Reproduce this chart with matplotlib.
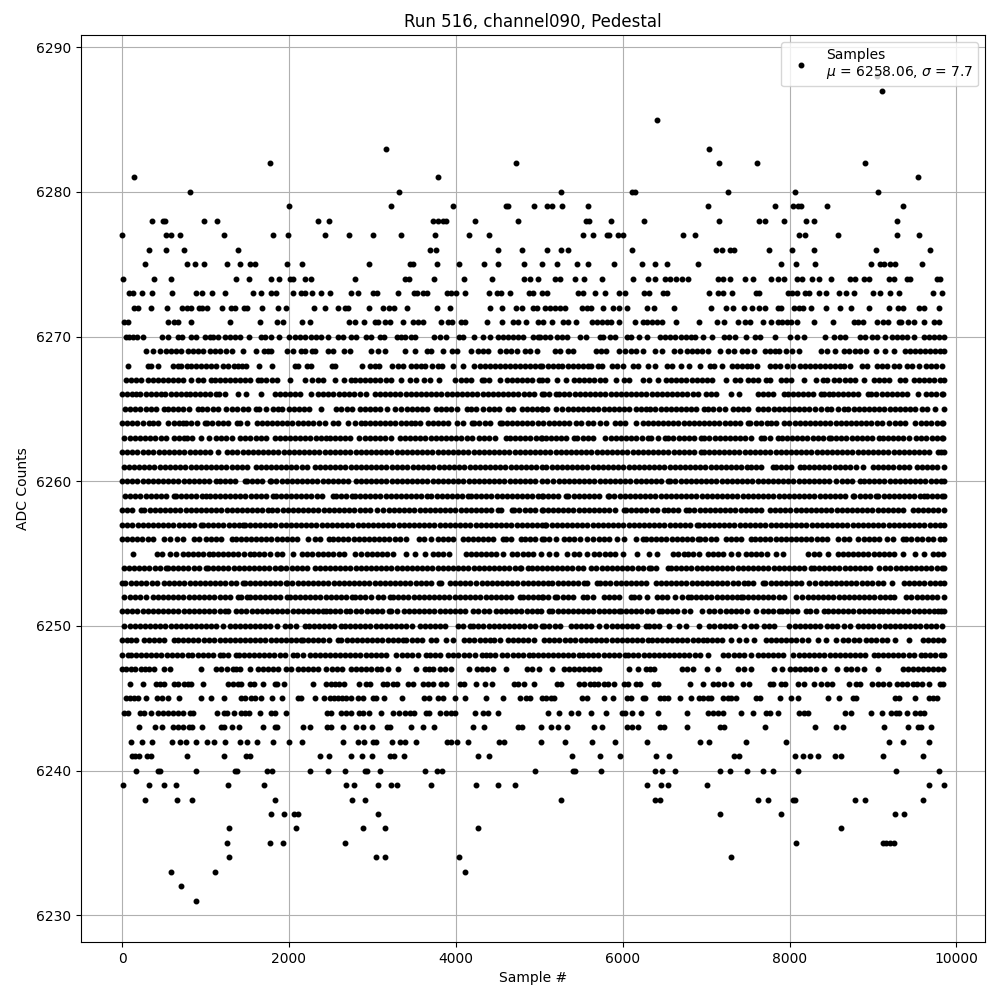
# import necessary library
import matplotlib.pyplot as plt

# sample numbers, one list per ADC level
s6231 = [880]
s6232 = [712]
s6233 = [592, 1108, 4108]
s6234 = [1276, 3040, 3148, 4036, 7302]
s6235 = [1252, 1768, 1924, 2668, 8082, 9118, 9158, 9200, 9250]
s6236 = [1276, 2080, 2884, 3148, 4264, 8622]
s6237 = [1780, 1936, 2060, 2108, 3064, 7170, 7902, 9258, 9366]
s6238 = [280, 664, 832, 1828, 2752, 2908, 5262, 6390, 6442, 7626, 7746, 8046, 8066, 8790, 8910, 9594]
s6239 = [16, 328, 508, 652, 1264, 1696, 2680, 2776, 3064, 3220, 3292, 3700, 4240, 4504, 4708, 6294, 6462, 6546, 7014, 9666, 9846]
s6240 = [172, 436, 460, 880, 1348, 1376, 1732, 1796, 2248, 2464, 2668, 2908, 2940, 3088, 3628, 3772, 3832, 4950,
         5406, 5434, 5742, 6390, 6474, 6630, 7170, 7290, 7494, 7686, 7806, 8106, 9270, 9786]
s6241 = [120, 160, 208, 300, 348, 772, 1216, 1480, 1528, 2368, 2476, 2740, 2880, 2992, 3208, 3256, 3380, 4264, 4396,
         5394, 5730, 5970, 6402, 6558, 7338, 7398, 8070, 8166, 8250, 8346, 8550, 8622, 9114, 9594]
s6242 = [112, 244, 364, 604, 700, 760, 880, 1012, 1096, 1228, 1408, 1492, 1612, 1804, 1996, 2152, 2644, 2828, 2896,
         3008, 3048, 3232, 3328, 3388, 3520, 3892, 3940, 4012, 4144, 4516, 4576, 5022, 5310, 5634, 5910, 6294, 6930,
         7038, 7482, 7962, 9186, 9354, 9666]
s6243 = [208, 400, 484, 616, 676, 736, 796, 836, 952, 1180, 1216, 1312, 1396, 1684, 1828, 1860, 2164, 2248, 2452,
         2500, 2652, 2800, 2884, 2992, 3172, 3208, 3460, 3604, 3736, 4204, 4336, 4748, 4796, 5022, 5142, 5226, 5334,
         5658, 5754, 6054, 6114, 6186, 6450, 6490, 6774, 7170, 7210, 7710, 8310, 8562, 8646, 9126, 9414, 9534, 9570, 9690]
s6244 = [28, 68, 220, 268, 352, 428, 488, 548, 608, 668, 728, 808, 848, 1132, 1216, 1256, 1336, 1420, 1468, 1520,
         1652, 1780, 1828, 1960, 2452, 2508, 2620, 2680, 2740, 2836, 2888, 2956, 3100, 3244, 3316, 3388, 3448, 3496,
         3640, 3676, 3808, 3880, 3940, 3988, 4228, 4328, 4388, 4504, 5106, 5238, 5382, 5466, 5618, 5802, 5986, 6026,
         6114, 6222, 6426, 6774, 7018, 7078, 7138, 7206, 7422, 7566, 7722, 7770, 7866, 8118, 8178, 8218, 8670, 8738,
         8982, 9102, 9210, 9270, 9310, 9402, 9498, 9558, 9606]
s6245 = [48, 100, 148, 196, 292, 420, 476, 548, 688, 948, 1060, 1224, 1420, 1476, 1540, 1596, 1660, 1792, 1912, 2108,
         2148, 2308, 2416, 2488, 2536, 2588, 2636, 2688, 2740, 2828, 2888, 3008, 3048, 3136, 3352, 3616, 3676, 3784,
         3844, 3988, 4108, 4360, 4564, 4768, 4836, 4888, 5038, 5078, 5146, 5178, 5518, 5570, 5778, 5878, 6050, 6098,
         6238, 6266, 6450, 6498, 6546, 6690, 6822, 6918, 6958, 7018, 7058, 7198, 7258, 7298, 7362, 7602, 7650, 7890,
         8022, 8098, 8466, 8598, 8766, 8802, 9258, 9310, 9498, 9666, 9714, 9770]
s6246 = [100, 256, 408, 460, 508, 620, 676, 740, 788, 820, 964, 1268, 1328, 1388, 1428, 1528, 1580, 1684, 1828, 1860,
         1936, 2284, 2440, 2500, 2548, 2596, 2660, 2836, 2928, 2968, 3128, 3180, 3248, 3300, 3428, 3488, 3608, 3668,
         3728, 3820, 3888, 4048, 4100, 4240, 4348, 4432, 4696, 4748, 4820, 4936, 5218, 5266, 5478, 5538, 5610, 5658,
         5706, 5770, 5826, 5898, 6018, 6066, 6158, 6210, 6370, 6418, 6810, 6966, 7078, 7146, 7210, 7298, 7446, 7518,
         7766, 7806, 7898, 7946, 8098, 8178, 8298, 8382, 8446, 8514, 8718, 8798, 8846, 8994, 9066, 9122, 9186, 9282,
         9346, 9410, 9478, 9526, 9586, 9670, 9798, 9838]
s6247 = [0, 52, 108, 160, 228, 276, 328, 388, 508, 576, 940, 1128, 1190, 1262, 1328, 1368, 1408, 1528, 1628, 1690, 1748,
         1812, 1870, 1968, 2028, 2108, 2168, 2228, 2290, 2352, 2448, 2520, 2580, 2640, 2748, 2808, 2868, 2928, 2988, 3050,
         3108, 3188, 3308, 3528, 3628, 3680, 3728, 3808, 3870, 3948, 4156, 4248, 4310, 4372, 4448, 4600, 4848, 4910,
         4998, 5158, 5298, 5358, 5420, 5482, 5540, 5602, 5660, 5718, 6078, 6178, 6278, 6330, 6378, 6706, 6770, 6838,
         7010, 7146, 7386, 7450, 7538, 7818, 7906, 8000, 8062, 8120, 8182, 8250, 8318, 8410, 8570, 8678, 8740, 8806,
         8898, 9058, 9358, 9420, 9480, 9544, 9600, 9664, 9722, 9782, 9838]
s6248 = [0, 68, 108, 170, 230, 288, 352, 410, 472, 536, 596, 660, 720, 784, 842, 906, 964, 1028, 1088, 1168, 1208, 1270,
         1368, 1396, 1458, 1520, 1580, 1644, 1702, 1766, 1826, 1888, 1948, 2048, 2100, 2168, 2248, 2310, 2368, 2432, 2490,
         2552, 2614, 2672, 2736, 2794, 2856, 2918, 2980, 3040, 3100, 3168, 3280, 3356, 3420, 3480, 3544, 3648, 3688, 3750,
         3812, 3908, 3968, 4030, 4092, 4154, 4228, 4308, 4360, 4408, 4468, 4548, 4610, 4688, 4748, 4810, 4872, 4930,
         4988, 5040, 5100, 5162, 5224, 5284, 5346, 5408, 5478, 5530, 5590, 5650, 5710, 5770, 5838, 5898, 5960, 6030,
         6066, 6128, 6188, 6250, 6312, 6370, 6432, 6494, 6556, 6616, 6678, 6740, 6800, 6862, 6924, 7018, 7206, 7268,
         7330, 7390, 7452, 7538, 7618, 7680, 7740, 7802, 7864, 7926, 8038, 8110, 8172, 8234, 8296, 8356, 8418, 8480,
         8540, 8602, 8664, 8726, 8786, 8848, 8910, 9010, 9058, 9120, 9180, 9242, 9304, 9364, 9426, 9488, 9570, 9618,
         9680, 9742, 9818, 9848]
s6249 = [0, 56, 112, 168, 260, 322, 384, 444, 506, 620, 668, 730, 790, 852, 914, 976, 1036, 1100, 1168, 1228, 1290, 1350,
         1412, 1474, 1534, 1596, 1658, 1718, 1780, 1842, 1902, 1964, 2026, 2088, 2148, 2168, 2230, 2292, 2352, 2414, 2476,
         2588, 2628, 2690, 2752, 2812, 2874, 2936, 2996, 3058, 3120, 3182, 3242, 3304, 3368, 3408, 3470, 3530, 3592, 3708,
         3768, 3888, 3968, 4100, 4162, 4222, 4284, 4346, 4408, 4460, 4528, 4628, 4688, 4750, 4810, 4868, 4938, 5058,
         5120, 5182, 5242, 5304, 5366, 5428, 5498, 5558, 5620, 5682, 5742, 5804, 5866, 5926, 5988, 6050, 6112, 6174,
         6234, 6298, 6346, 6408, 6470, 6530, 6592, 6654, 6716, 6776, 6838, 6900, 6958, 7006, 7068, 7130, 7190, 7298,
         7398, 7478, 7578, 7718, 7778, 7838, 7898, 7960, 8022, 8082, 8144, 8218, 8338, 8438, 8558, 8638, 8698, 8770, 8838,
         8918, 8980, 9042, 9104, 9166, 9258, 9430, 9598, 9660, 9722, 9782, 9844]
s6250 = [28, 90, 150, 212, 274, 336, 396, 458, 520, 582, 642, 704, 766, 828, 888, 948, 1008, 1068, 1130, 1208, 1288, 1350,
         1410, 1472, 1534, 1596, 1656, 1718, 1768, 1856, 1956, 2018, 2080, 2188, 2236, 2298, 2358, 2420, 2482, 2544, 2628,
         2668, 2730, 2792, 2852, 2914, 2976, 3038, 3098, 3160, 3222, 3284, 3344, 3406, 3476, 3568, 3630, 3690, 3752, 3814,
         3876, 4028, 4088, 4168, 4208, 4270, 4330, 4392, 4454, 4516, 4576, 4638, 4700, 4762, 4822, 4884, 4946, 5028, 5060,
         5118, 5186, 5250, 5378, 5440, 5500, 5562, 5624, 5718, 5798, 5866, 5928, 5990, 6050, 6112, 6174, 6278, 6318, 6380,
         6438, 6558, 6678, 6762, 6910, 7038, 7100, 7162, 7224, 7284, 7346, 7458, 7538, 7600, 7698, 7758, 7818, 7998, 8060,
         8122, 8184, 8244, 8306, 8370, 8450, 8512, 8574, 8650, 8730, 8818, 8880, 8942, 9004, 9070, 9138, 9200, 9262,
         9322, 9384, 9446, 9508, 9568, 9630, 9692, 9758, 9826]
s6251 = [0, 60, 122, 184, 246, 306, 368, 430, 492, 552, 614, 676, 738, 798, 860, 922, 984, 1044, 1106, 1168, 1230, 1268,
         1368, 1430, 1490, 1552, 1614, 1676, 1736, 1798, 1860, 1922, 1982, 2044, 2106, 2168, 2228, 2290, 2352, 2414, 2448,
         2488, 2550, 2612, 2688, 2728, 2808, 2868, 2930, 2992, 3054, 3114, 3196, 3228, 3290, 3380, 3436, 3498, 3560, 3620,
         3682, 3744, 3806, 3866, 3928, 3990, 4052, 4112, 4200, 4268, 4340, 4402, 4476, 4540, 4602, 4664, 4724, 4786,
         4848, 4910, 4968, 5026, 5118, 5158, 5220, 5280, 5342, 5404, 5466, 5526, 5588, 5650, 5712, 5772, 5834, 5896,
         5958, 5978, 6040, 6102, 6162, 6224, 6286, 6348, 6438, 6466, 6528, 6590, 6650, 6738, 6810, 6946, 7038, 7090, 7170,
         7238, 7300, 7362, 7422, 7484, 7598, 7678, 7740, 7800, 7878, 7906, 7968, 8030, 8092, 8198, 8250, 8312, 8418,
         8458, 8520, 8582, 8644, 8704, 8766, 8828, 8890, 8950, 9012, 9074, 9118, 9178, 9240, 9302, 9362, 9424, 9486,
         9548, 9608, 9670, 9732, 9778, 9818, 9850]
s6252 = [28, 90, 150, 212, 288, 368, 430, 490, 552, 614, 676, 736, 798, 860, 922, 982, 1044, 1106, 1168, 1228, 1290, 1388,
         1420, 1500, 1528, 1590, 1652, 1712, 1774, 1836, 1898, 1976, 2008, 2070, 2130, 2192, 2254, 2316, 2376, 2438, 2500,
         2562, 2622, 2684, 2756, 2788, 2850, 2910, 2988, 3068, 3130, 3208, 3248, 3310, 3372, 3432, 3494, 3556, 3618, 3678,
         3740, 3802, 3864, 3924, 3986, 4048, 4110, 4170, 4232, 4294, 4356, 4416, 4478, 4540, 4602, 4662, 4768, 4800,
         4862, 4924, 4984, 5028, 5046, 5108, 5186, 5218, 5280, 5342, 5404, 5530, 5570, 5650, 5770, 5832, 5892, 5954,
         6098, 6130, 6192, 6290, 6410, 6472, 6534, 6626, 6706, 6778, 6818, 6880, 6942, 7004, 7064, 7126, 7188, 7250, 7310,
         7372, 7418, 7438, 7500, 7560, 7622, 7684, 7746, 7806, 7868, 7930, 8078, 8146, 8218, 8280, 8342, 8402, 8464,
         8526, 8588, 8648, 8710, 8772, 8834, 8894, 8956, 9018, 9080, 9140, 9202, 9250, 9398, 9460, 9522, 9584, 9644,
         9706, 9768, 9846]
s6253 = [0, 36, 108, 170, 232, 292, 354, 420, 500, 562, 624, 686, 746, 808, 870, 932, 992, 1054, 1116, 1178, 1238, 1300,
         1362, 1448, 1468, 1530, 1590, 1652, 1714, 1776, 1836, 1898, 1960, 1980, 2042, 2104, 2164, 2226, 2288, 2350, 2410,
         2472, 2534, 2596, 2656, 2718, 2780, 2842, 2902, 2964, 3026, 3088, 3148, 3210, 3272, 3334, 3394, 3456, 3518, 3580,
         3640, 3702, 3796, 3828, 3928, 3990, 4052, 4114, 4174, 4236, 4316, 4368, 4430, 4492, 4554, 4614, 4676, 4738,
         4800, 4860, 4922, 4984, 5046, 5106, 5158, 5220, 5282, 5342, 5404, 5466, 5538, 5578, 5698, 5730, 5792, 5852, 5914,
         5976, 6038, 6098, 6160, 6222, 6284, 6398, 6458, 6518, 6580, 6640, 6702, 6764, 6826, 6886, 6948, 7010, 7072, 7132,
         7194, 7256, 7318, 7378, 7458, 7498, 7560, 7678, 7710, 7772, 7834, 7894, 7956, 8018, 8080, 8140, 8238, 8310,
         8372, 8434, 8496, 8556, 8618, 8680, 8742, 8802, 8864, 8926, 8990, 9058, 9120, 9226, 9370, 9432, 9492, 9554,
         9616, 9678, 9738, 9800, 9846]
s6254 = [20, 82, 144, 204, 266, 328, 390, 450, 528, 548, 610, 672, 732, 794, 856, 918, 1008, 1028, 1090, 1150, 1212, 1274,
         1336, 1396, 1458, 1520, 1582, 1642, 1704, 1766, 1828, 1888, 1908, 1970, 2032, 2092, 2154, 2216, 2308, 2368, 2430,
         2490, 2552, 2614, 2676, 2736, 2798, 2860, 2922, 2982, 3044, 3106, 3168, 3228, 3290, 3352, 3414, 3474, 3536, 3598,
         3660, 3720, 3782, 3844, 3906, 3966, 4028, 4090, 4150, 4212, 4274, 4336, 4396, 4458, 4520, 4582, 4642, 4704,
         4768, 4780, 4868, 4908, 4970, 5028, 5090, 5152, 5214, 5274, 5336, 5398, 5460, 5520, 5618, 5686, 5748, 5810, 5870,
         5932, 5994, 6056, 6116, 6178, 6240, 6318, 6338, 6400, 6538, 6578, 6640, 6700, 6762, 6824, 6886, 6946, 7008, 7070,
         7132, 7192, 7254, 7316, 7378, 7438, 7500, 7562, 7624, 7684, 7746, 7808, 7870, 7930, 7992, 8054, 8116, 8176, 8258,
         8290, 8352, 8414, 8476, 8536, 8598, 8660, 8722, 8782, 8844, 8906, 8968, 9078, 9146, 9208, 9270, 9330, 9392, 9454,
         9516, 9576, 9638, 9700, 9762, 9822, 9848]
s6255 = [136, 416, 478, 580, 648, 728, 790, 852, 912, 974, 1036, 1088, 1148, 1210, 1272, 1332, 1394, 1456, 1528, 1580, 1642,
         1704, 1768, 1860, 1922, 2048, 2160, 2222, 2276, 2348, 2410, 2470, 2532, 2594, 2656, 2788, 2868, 2930, 2992, 3052,
         3114, 3180, 3248, 3408, 3516, 3628, 3728, 3790, 3848, 3920, 4116, 4178, 4240, 4300, 4362, 4424, 4486, 4568, 4668,
         4730, 4808, 4868, 4930, 5018, 5118, 5198, 5338, 5418, 5478, 5578, 5658, 5720, 5782, 5844, 5904, 5998, 6170, 6318,
         6410, 6598, 6660, 6730, 6778, 6840, 6918, 7018, 7080, 7140, 7202, 7298, 7378, 7478, 7540, 7602, 7662, 7724, 7838,
         7918, 8226, 8288, 8358, 8466, 8578, 8640, 8700, 8762, 8824, 8886, 8946, 9008, 9070, 9132, 9192, 9254, 9358,
         9498, 9610, 9718, 9780, 9840]
s6256 = [0, 60, 122, 184, 244, 306, 368, 508, 570, 660, 728, 860, 922, 1008, 1060, 1122, 1184, 1316, 1360, 1422, 1484, 1544,
         1606, 1668, 1730, 1790, 1852, 1914, 1976, 2036, 2098, 2228, 2308, 2370, 2476, 2528, 2590, 2650, 2712, 2774, 2836,
         2896, 2958, 3020, 3082, 3142, 3204, 3266, 3328, 3408, 3560, 3622, 3700, 3788, 3850, 3912, 3972, 4088, 4140, 4202,
         4264, 4324, 4386, 4448, 4568, 4596, 4658, 4780, 4828, 4890, 4950, 5028, 5058, 5120, 5198, 5298, 5360, 5422, 5484,
         5578, 5650, 5712, 5778, 5838, 5930, 6010, 6158, 6238, 6278, 6340, 6402, 6462, 6524, 6586, 6648, 6708, 6770, 6832,
         6898, 6930, 6992, 7054, 7114, 7238, 7298, 7360, 7422, 7538, 7586, 7648, 7710, 7770, 7832, 7894, 7956, 8016, 8078,
         8140, 8202, 8262, 8324, 8386, 8450, 8586, 8648, 8710, 8818, 8890, 8952, 9014, 9076, 9170, 9238, 9358, 9398,
         9460, 9522, 9584, 9658, 9718, 9798, 9846]
s6257 = [0, 62, 124, 186, 246, 308, 370, 432, 492, 554, 616, 678, 738, 800, 862, 948, 968, 1030, 1092, 1152, 1214, 1276,
         1338, 1398, 1448, 1468, 1530, 1592, 1654, 1714, 1776, 1838, 1900, 1960, 2022, 2084, 2146, 2206, 2268, 2330, 2392,
         2452, 2514, 2576, 2638, 2698, 2760, 2822, 2884, 2944, 3006, 3068, 3130, 3190, 3252, 3314, 3376, 3436, 3498, 3560,
         3622, 3682, 3744, 3806, 3868, 3928, 3990, 4052, 4114, 4174, 4236, 4298, 4360, 4420, 4482, 4544, 4606, 4666,
         4728, 4790, 4852, 4912, 4974, 5028, 5066, 5086, 5148, 5210, 5270, 5332, 5394, 5456, 5516, 5578, 5640, 5702, 5762,
         5824, 5886, 5948, 6008, 6070, 6132, 6194, 6254, 6316, 6378, 6440, 6500, 6562, 6624, 6686, 6746, 6808, 6890, 6910,
         6972, 7034, 7094, 7156, 7218, 7280, 7340, 7402, 7464, 7526, 7586, 7648, 7710, 7772, 7832, 7894, 7956, 8018, 8078,
         8140, 8202, 8264, 8324, 8386, 8448, 8510, 8570, 8632, 8694, 8756, 8816, 8878, 8940, 9002, 9062, 9124, 9186,
         9248, 9308, 9370, 9432, 9494, 9554, 9616, 9678, 9740, 9800, 9850]
s6258 = [0, 60, 122, 228, 268, 330, 392, 452, 514, 576, 638, 698, 760, 822, 884, 944, 1006, 1068, 1130, 1190, 1252, 1314,
         1376, 1436, 1498, 1560, 1622, 1682, 1748, 1800, 1862, 1924, 1984, 2046, 2108, 2170, 2230, 2292, 2354, 2416, 2476,
         2538, 2600, 2662, 2722, 2784, 2846, 2908, 2968, 3060, 3128, 3196, 3258, 3320, 3380, 3442, 3504, 3566, 3626, 3688,
         3750, 3812, 3872, 3934, 3996, 4058, 4118, 4180, 4242, 4304, 4364, 4426, 4508, 4540, 4668, 4700, 4762, 4824, 4884,
         4946, 5028, 5040, 5102, 5164, 5226, 5286, 5348, 5410, 5472, 5532, 5594, 5656, 5718, 5778, 5840, 5902, 6018, 6038,
         6100, 6162, 6224, 6284, 6346, 6408, 6498, 6538, 6600, 6662, 6758, 6798, 6860, 6922, 6984, 7044, 7106, 7168, 7230,
         7290, 7352, 7414, 7476, 7536, 7598, 7660, 7766, 7826, 7888, 7950, 8010, 8072, 8134, 8196, 8256, 8318, 8380, 8442,
         8502, 8564, 8626, 8688, 8748, 8810, 8872, 8934, 8994, 9056, 9118, 9180, 9240, 9302, 9364, 9478, 9538, 9600, 9662,
         9724, 9784, 9846]
s6259 = [36, 98, 160, 220, 282, 344, 406, 466, 528, 620, 644, 706, 768, 828, 890, 952, 1008, 1048, 1110, 1172, 1232, 1294,
         1356, 1418, 1478, 1540, 1602, 1664, 1724, 1808, 1840, 1902, 1964, 2024, 2086, 2148, 2210, 2270, 2332, 2394, 2528,
         2560, 2622, 2684, 2756, 2788, 2850, 2912, 2974, 3034, 3096, 3158, 3220, 3280, 3342, 3404, 3466, 3526, 3588, 3660,
         3708, 3770, 3832, 3892, 3954, 4016, 4078, 4148, 4180, 4242, 4304, 4364, 4426, 4488, 4550, 4610, 4672, 4734,
         4796, 4856, 4918, 4980, 5028, 5042, 5104, 5166, 5226, 5318, 5350, 5412, 5474, 5534, 5596, 5658, 5720, 5818, 5838,
         5900, 5962, 6022, 6084, 6146, 6208, 6268, 6330, 6392, 6454, 6514, 6576, 6638, 6700, 6760, 6822, 6884, 6946, 7006,
         7068, 7130, 7192, 7252, 7314, 7376, 7438, 7498, 7560, 7622, 7684, 7744, 7806, 7868, 7930, 7990, 8052, 8114, 8176,
         8236, 8298, 8360, 8422, 8482, 8544, 8606, 8668, 8758, 8778, 8840, 8902, 8962, 9038, 9066, 9128, 9190, 9250, 9312,
         9374, 9436, 9496, 9558, 9610, 9646, 9708, 9770, 9830, 9848]
s6260 = [0, 62, 124, 184, 246, 308, 370, 430, 492, 554, 616, 676, 738, 800, 862, 922, 984, 1046, 1128, 1168, 1230, 1292,
         1352, 1468, 1496, 1558, 1620, 1680, 1768, 1788, 1850, 1912, 1972, 2034, 2096, 2158, 2218, 2280, 2342, 2404, 2464,
         2526, 2588, 2650, 2710, 2808, 2860, 2922, 2984, 3044, 3106, 3168, 3230, 3290, 3352, 3414, 3476, 3536, 3598, 3660,
         3722, 3782, 3844, 3906, 3968, 4028, 4090, 4152, 4214, 4274, 4336, 4398, 4460, 4520, 4582, 4644, 4706, 4766,
         4828, 4890, 4952, 5028, 5098, 5170, 5232, 5294, 5354, 5416, 5478, 5540, 5600, 5662, 5724, 5786, 5846, 5908, 5970,
         6032, 6092, 6154, 6216, 6278, 6338, 6400, 6462, 6538, 6570, 6632, 6694, 6754, 6816, 6878, 6940, 7000, 7062, 7124,
         7186, 7246, 7308, 7370, 7432, 7492, 7554, 7616, 7678, 7738, 7800, 7862, 7924, 7984, 8046, 8108, 8170, 8230, 8292,
         8354, 8416, 8476, 8558, 8626, 8688, 8750, 8850, 8890, 8952, 9014, 9074, 9136, 9198, 9260, 9320, 9382, 9444, 9506,
         9566, 9628, 9690, 9752, 9812, 9846]
s6261 = [20, 82, 142, 204, 266, 328, 388, 450, 512, 574, 634, 696, 758, 820, 880, 942, 1004, 1066, 1126, 1188, 1250, 1312,
         1372, 1434, 1496, 1608, 1660, 1722, 1784, 1844, 1906, 1968, 2030, 2090, 2152, 2214, 2308, 2368, 2430, 2492, 2552,
         2614, 2676, 2738, 2798, 2860, 2922, 2984, 3044, 3106, 3168, 3230, 3290, 3352, 3414, 3488, 3548, 3610, 3672, 3732,
         3794, 3856, 3918, 3978, 4040, 4102, 4164, 4224, 4286, 4348, 4410, 4470, 4532, 4594, 4656, 4716, 4778, 4840,
         4902, 4962, 5028, 5086, 5148, 5210, 5270, 5332, 5394, 5456, 5516, 5578, 5640, 5702, 5762, 5824, 5886, 5948, 6008,
         6070, 6132, 6194, 6254, 6316, 6378, 6440, 6500, 6562, 6624, 6686, 6746, 6808, 6870, 6932, 6992, 7054, 7116, 7178,
         7238, 7300, 7362, 7424, 7484, 7538, 7598, 7660, 7798, 7838, 7900, 7962, 8022, 8130, 8170, 8232, 8294, 8354, 8416,
         8478, 8540, 8600, 8662, 8724, 8798, 8886, 8998, 9060, 9122, 9182, 9244, 9306, 9368, 9428, 9526, 9586, 9648, 9710,
         9770, 9848]
s6262 = [0, 60, 122, 184, 246, 306, 368, 448, 500, 562, 624, 684, 746, 808, 870, 930, 992, 1054, 1148, 1260, 1322, 1382, 1444,
         1506, 1568, 1628, 1690, 1752, 1814, 1874, 1936, 1998, 2060, 2120, 2182, 2244, 2306, 2366, 2428, 2490, 2552, 2612,
         2674, 2736, 2798, 2858, 2920, 2982, 3044, 3104, 3166, 3228, 3290, 3350, 3412, 3474, 3536, 3596, 3658, 3720, 3782,
         3842, 3904, 3966, 4028, 4088, 4150, 4212, 4274, 4334, 4396, 4458, 4520, 4580, 4642, 4704, 4766, 4826, 4888,
         4950, 5012, 5072, 5134, 5196, 5258, 5318, 5380, 5442, 5504, 5564, 5626, 5688, 5750, 5810, 5872, 5934, 5996, 6056,
         6118, 6180, 6242, 6302, 6364, 6426, 6488, 6548, 6610, 6672, 6734, 6794, 6856, 6938, 6970, 7032, 7094, 7154, 7216,
         7278, 7340, 7400, 7462, 7524, 7586, 7646, 7708, 7770, 7832, 7892, 7954, 8016, 8078, 8138, 8200, 8262, 8324, 8384,
         8446, 8508, 8570, 8630, 8692, 8754, 8816, 8876, 8938, 9000, 9062, 9122, 9184, 9246, 9308, 9368, 9430, 9492, 9554,
         9614, 9676, 9778, 9810, 9848]
s6263 = [28, 90, 152, 212, 274, 336, 398, 468, 528, 620, 680, 740, 780, 842, 940, 1036, 1128, 1190, 1250, 1312, 1408, 1476,
         1538, 1600, 1660, 1722, 1828, 1888, 1950, 2012, 2074, 2134, 2196, 2258, 2320, 2380, 2448, 2488, 2550, 2612, 2672,
         2734, 2836, 2908, 2970, 3032, 3092, 3154, 3220, 3328, 3390, 3452, 3512, 3574, 3636, 3698, 3758, 3820, 3882, 3944,
         4004, 4066, 4128, 4190, 4280, 4340, 4402, 4464, 4596, 4648, 4710, 4772, 4832, 4894, 4956, 5028, 5018, 5080, 5142,
         5204, 5264, 5326, 5418, 5458, 5520, 5582, 5644, 5786, 5858, 5918, 5980, 6042, 6102, 6164, 6226, 6298, 6338, 6418,
         6506, 6546, 6608, 6670, 6730, 6792, 6854, 6938, 6978, 7040, 7102, 7162, 7224, 7286, 7348, 7408, 7470, 7532, 7658,
         7698, 7760, 7866, 7906, 7968, 8030, 8092, 8152, 8214, 8276, 8338, 8398, 8478, 8498, 8560, 8622, 8682, 8744, 8806,
         8868, 8928, 8990, 9070, 9118, 9180, 9242, 9302, 9364, 9426, 9518, 9578, 9640, 9702, 9764, 9824, 9844]
s6264 = [0, 62, 124, 184, 246, 328, 368, 430, 548, 620, 680, 728, 768, 830, 892, 988, 1020, 1082, 1144, 1204, 1266, 1380,
         1408, 1496, 1612, 1674, 1734, 1796, 1858, 1920, 1980, 2042, 2104, 2166, 2226, 2288, 2356, 2436, 2528, 2590, 2708,
         2796, 2858, 2908, 2968, 3030, 3092, 3152, 3214, 3276, 3338, 3398, 3468, 3508, 3570, 3668, 3728, 3790, 3852, 3912,
         4020, 4088, 4188, 4220, 4282, 4344, 4404, 4528, 4548, 4610, 4672, 4732, 4794, 4856, 4918, 4988, 5050, 5112, 5174,
         5234, 5296, 5358, 5438, 5498, 5586, 5648, 5730, 5798, 5906, 5968, 6030, 6162, 6238, 6300, 6362, 6422, 6484, 6546,
         6608, 6668, 6730, 6792, 6854, 6914, 6976, 7038, 7100, 7160, 7222, 7284, 7346, 7406, 7498, 7530, 7592, 7654, 7730,
         7778, 7840, 7930, 7998, 8060, 8122, 8182, 8244, 8306, 8368, 8428, 8490, 8552, 8614, 8674, 8736, 8798, 8860, 8920,
         8982, 9044, 9106, 9186, 9258, 9320, 9380, 9498, 9570, 9638, 9700, 9762, 9822, 9844]
s6265 = [36, 98, 160, 220, 282, 344, 406, 500, 548, 610, 672, 734, 796, 908, 960, 1022, 1084, 1146, 1248, 1320, 1382, 1444,
         1504, 1608, 1636, 1728, 1808, 1868, 1920, 1996, 2058, 2120, 2182, 2244, 2388, 2560, 2628, 2690, 2752, 2848, 2908,
         2970, 3032, 3094, 3180, 3276, 3348, 3410, 3472, 3532, 3594, 3656, 3768, 3820, 3880, 3948, 4010, 4128, 4180, 4242,
         4328, 4396, 4458, 4520, 4620, 4688, 4788, 4850, 4912, 4972, 5028, 5034, 5096, 5198, 5278, 5340, 5402, 5462, 5524,
         5586, 5648, 5708, 5770, 5832, 5894, 5954, 6016, 6078, 6158, 6218, 6278, 6330, 6392, 6454, 6516, 6576, 6638, 6700,
         6762, 6822, 6884, 6978, 7026, 7088, 7150, 7226, 7318, 7380, 7442, 7502, 7618, 7678, 7746, 7808, 7870, 7930, 7992,
         8054, 8116, 8176, 8238, 8300, 8378, 8450, 8498, 8578, 8658, 8706, 8768, 8830, 8890, 8952, 9014, 9076, 9136, 9198,
         9260, 9322, 9382, 9444, 9506, 9586, 9650, 9746, 9846]
s6266 = [0, 60, 122, 168, 220, 282, 344, 406, 466, 520, 588, 650, 710, 768, 808, 870, 932, 994, 1054, 1128, 1156, 1236, 1388,
         1488, 1660, 1828, 1890, 1952, 2014, 2074, 2136, 2268, 2348, 2410, 2472, 2532, 2594, 2656, 2718, 2778, 2848, 2920,
         3028, 3090, 3152, 3212, 3274, 3336, 3398, 3458, 3520, 3582, 3644, 3704, 3766, 3828, 3890, 3950, 4012, 4074, 4136,
         4196, 4258, 4320, 4382, 4442, 4504, 4566, 4628, 4688, 4750, 4812, 4874, 4934, 5028, 5058, 5120, 5198, 5238, 5300,
         5362, 5424, 5484, 5546, 5608, 5670, 5730, 5792, 5854, 5916, 5976, 6038, 6100, 6162, 6222, 6284, 6346, 6408, 6468,
         6530, 6592, 6654, 6714, 6776, 6838, 6900, 7000, 7058, 7120, 7298, 7398, 7618, 7680, 7742, 7804, 7938, 7978, 8040,
         8102, 8164, 8224, 8286, 8378, 8418, 8478, 8518, 8580, 8642, 8702, 8764, 8826, 8938, 8978, 9040, 9102, 9162, 9224,
         9286, 9348, 9408, 9538, 9638, 9700, 9760, 9822, 9844]
s6267 = [48, 108, 168, 230, 308, 368, 430, 490, 548, 608, 670, 728, 828, 908, 970, 1068, 1108, 1170, 1232, 1292, 1354, 1416,
         1478, 1538, 1628, 1668, 1730, 1792, 1852, 2008, 2188, 2276, 2348, 2410, 2548, 2660, 2748, 2788, 2850, 2912, 2972,
         3034, 3096, 3158, 3218, 3348, 3448, 3528, 3616, 3688, 3796, 3996, 4058, 4120, 4180, 4308, 4340, 4402, 4528, 4608,
         4670, 4732, 4792, 4854, 4916, 5028, 5000, 5098, 5210, 5318, 5418, 5478, 5540, 5602, 5662, 5724, 5786, 5918, 6018,
         6080, 6238, 6318, 6418, 6518, 6580, 6640, 6702, 6764, 6826, 6886, 6948, 7010, 7072, 7238, 7346, 7408, 7498, 7558,
         7620, 7718, 7770, 7898, 7960, 8020, 8178, 8318, 8398, 8450, 8530, 8598, 8660, 8722, 8782, 8898, 9010, 9072, 9134,
         9194, 9318, 9378, 9490, 9552, 9614, 9674, 9736, 9798, 9848]
s6268 = [76, 308, 348, 436, 608, 668, 708, 780, 828, 888, 948, 1008, 1068, 1128, 1208, 1268, 1336, 1388, 1436, 1488, 1644,
         1792, 2068, 2108, 2220, 2260, 2516, 2556, 2872, 2968, 3028, 3076, 3232, 3308, 3368, 3460, 3528, 3588, 3636, 3720,
         3788, 3836, 3964, 4084, 4220, 4288, 4348, 4408, 4468, 4528, 4588, 4648, 4708, 4768, 4828, 4888, 4948, 5008, 5028,
         5100, 5168, 5228, 5276, 5348, 5408, 5468, 5528, 5588, 5620, 5700, 5756, 5876, 5928, 6008, 6128, 6188, 6308, 6388,
         6528, 6588, 6700, 6796, 6928, 7048, 7100, 7192, 7308, 7368, 7428, 7488, 7540, 7612, 7768, 7828, 7888, 7972, 8044,
         8128, 8188, 8248, 8308, 8368, 8428, 8488, 8548, 8608, 8648, 8724, 8868, 8928, 9048, 9108, 9168, 9248, 9308, 9408,
         9468, 9548, 9636, 9696, 9756, 9832]
s6269 = [288, 368, 460, 528, 588, 648, 708, 788, 848, 908, 968, 1048, 1108, 1168, 1244, 1312, 1444, 1600, 1700, 1748, 1788,
         1980, 2048, 2140, 2188, 2276, 2316, 2468, 2528, 2656, 2728, 2980, 3064, 3152, 3388, 3512, 3656, 3708, 3844, 3956,
         4020, 4180, 4268, 4328, 4388, 4532, 4596, 4660, 4728, 4828, 4888, 4968, 5188, 5248, 5348, 5408, 5680, 5736, 5796,
         5956, 6028, 6100, 6156, 6244, 6388, 6476, 6616, 6688, 6772, 6828, 6896, 6956, 7028, 7168, 7268, 7336, 7428, 7488,
         7568, 7708, 7768, 7828, 7876, 7956, 8028, 8108, 8380, 8448, 8548, 8648, 8716, 8788, 8848, 8920, 9040, 9148, 9248,
         9380, 9440, 9508, 9568, 9628, 9688, 9748, 9808, 9850]
s6270 = [48, 88, 136, 180, 248, 476, 548, 676, 720, 820, 880, 996, 1048, 1088, 1148, 1236, 1288, 1348, 1408, 1516, 1660, 1708,
         1780, 1876, 1996, 2068, 2128, 2188, 2268, 2328, 2388, 2468, 2588, 2648, 2748, 2808, 2920, 2980, 3088, 3140, 3300,
         3348, 3388, 3468, 3508, 3736, 3816, 3880, 4036, 4088, 4220, 4328, 4408, 4508, 4568, 4628, 4688, 4748, 4808, 4928,
         4988, 5008, 5068, 5128, 5208, 5268, 5328, 5488, 5556, 5728, 5768, 5848, 5908, 6048, 6100, 6196, 6288, 6448, 6508,
         6568, 6628, 6696, 6756, 6820, 6868, 6968, 7068, 7220, 7276, 7348, 7480, 7588, 7648, 7828, 8008, 8088, 8168, 8428,
         8528, 8608, 8668, 8848, 8908, 8988, 9048, 9140, 9228, 9288, 9348, 9408, 9488, 9608, 9668, 9728, 9796, 9846]
s6271 = [28, 68, 556, 628, 676, 820, 1288, 1648, 1852, 1924, 2156, 2248, 2716, 2788, 2896, 3028, 3068, 3148, 3208, 3364, 3488,
         3548, 3608, 3820, 3908, 3956, 4060, 4108, 4372, 4552, 4684, 4748, 4840, 4988, 5048, 5156, 5288, 5348, 5440, 5628,
         5688, 5748, 5808, 5856, 5952, 6144, 6248, 6288, 6356, 6408, 6468, 6640, 6916, 7132, 7216, 7384, 7468, 7528, 7684,
         7780, 7860, 7908, 7968, 8020, 8092, 8296, 8524, 8768, 8820, 8876, 9048, 9116, 9176, 9308, 9340, 9416, 9496, 9616,
         9728, 9788]
s6272 = [148, 196, 352, 544, 720, 780, 828, 916, 960, 1016, 1192, 1300, 1356, 1456, 1500, 1672, 1864, 1960, 2296, 2428, 2584,
         2668, 2708, 2956, 3124, 3196, 3256, 3412, 3772, 3928, 4408, 4552, 4720, 4796, 4928, 4976, 5068, 5128, 5188, 5248,
         5308, 5508, 5568, 5620, 5764, 5888, 5956, 6048, 6288, 6376, 6616, 7060, 7240, 7324, 7456, 7552, 7628, 7708, 7860,
         7900, 8048, 8108, 8156, 8260, 8440, 8608, 8740, 8956, 9196, 9300, 9356, 9548, 9608, 9796]
s6273 = [88, 128, 244, 364, 604, 888, 952, 1072, 1228, 1564, 1660, 1788, 1840, 2044, 2140, 2196, 2272, 2380, 2488, 2740, 2824,
         3004, 3060, 3304, 3496, 3536, 3604, 3660, 3892, 3940, 4000, 4108, 4396, 4488, 4540, 4648, 4880, 4920, 5028, 5088,
         5468, 5528, 5668, 5788, 5956, 6028, 6260, 6316, 6488, 6536, 7036, 7140, 7208, 7308, 7596, 7636, 7980, 8028, 8088,
         8180, 8236, 8356, 8440, 8588, 8680, 8768, 8996, 9088, 9208, 9308, 9724, 9832]
s6274 = [16, 388, 592, 1360, 1516, 1780, 1876, 2008, 2048, 2188, 2260, 2788, 3388, 3436, 3736, 4096, 4432, 4820, 4888, 4980,
         5188, 5248, 5428, 5536, 5752, 6124, 6304, 6388, 6508, 6568, 6640, 6708, 6788, 7148, 7208, 7288, 7468, 7564, 7780,
         7860, 7928, 8088, 8148, 8272, 8356, 8500, 8728, 8788, 8888, 8948, 9188, 9256, 9408, 9448, 9768, 9808]
s6275 = [280, 772, 868, 976, 1252, 1408, 1528, 1588, 1972, 2152, 2956, 3448, 3488, 3772, 4036, 4340, 4508, 4816, 5032, 5212,
         5452, 5584, 5896, 6232, 6388, 6532, 6904, 7900, 8080, 8308, 8980, 9088, 9128, 9208, 9260, 9592]
s6276 = [328, 532, 748, 1384, 3688, 3760, 4504, 4792, 5092, 5260, 5344, 6112, 7120, 7188, 7288, 7340, 7756, 8032, 8288, 9040, 9688]
s6277 = [4, 532, 588, 700, 1216, 1804, 1984, 2428, 2716, 3004, 3340, 3748, 4156, 4396, 5524, 5644, 5808, 5836, 5948, 6008,
         6724, 6868, 8116, 8188, 8584, 9292, 9556]
s6278 = [364, 496, 520, 976, 1132, 2344, 2476, 3724, 3784, 3844, 3880, 4228, 4744, 5556, 5596, 5860, 6256, 7156, 7636, 7700,
         7936, 8200, 8296, 9292]
s6279 = [1996, 3220, 3964, 4600, 4624, 4936, 5088, 5148, 5272, 5584, 7024, 7828, 8044, 8100, 8140, 8452, 9364]
s6280 = [808, 3316, 5260, 6108, 6148, 7264, 8068, 9064]
s6281 = [148, 3784, 9544]
s6282 = [1768, 4720, 7156, 7612, 8908]
s6283 = [3160, 7036]
s6285 = [6412]
s6287 = [9112]
s6288 = [9054]

levels = [6231, 6232, 6233, 6234, 6235, 6236, 6237, 6238, 6239, 6240, 6241, 6242, 6243, 6244, 6245, 6246, 6247, 6248, 6249,
          6250, 6251, 6252, 6253, 6254, 6255, 6256, 6257, 6258, 6259, 6260, 6261, 6262, 6263, 6264, 6265, 6266, 6267, 6268,
          6269, 6270, 6271, 6272, 6273, 6274, 6275, 6276, 6277, 6278, 6279, 6280, 6281, 6282, 6283, 6285, 6287, 6288]
samples = [s6231, s6232, s6233, s6234, s6235, s6236, s6237, s6238, s6239, s6240, s6241, s6242, s6243, s6244, s6245, s6246,
           s6247, s6248, s6249, s6250, s6251, s6252, s6253, s6254, s6255, s6256, s6257, s6258, s6259, s6260, s6261, s6262,
           s6263, s6264, s6265, s6266, s6267, s6268, s6269, s6270, s6271, s6272, s6273, s6274, s6275, s6276, s6277, s6278,
           s6279, s6280, s6281, s6282, s6283, s6285, s6287, s6288]

# Flatten the rows into x and y
x = []
y = []
for level, row in zip(levels, samples):
    x += row
    y += [level] * len(row)

plt.figure(figsize=(10, 10), dpi=100)
plt.plot(x, y, '.', color='k', markersize=6.5, label='Samples\n$\\mu$ = 6258.06, $\\sigma$ = 7.7')

# Adding labels
plt.xlabel('Sample #')
plt.ylabel('ADC Counts')
plt.title('Run 516, channel090, Pedestal')
plt.grid(True)
plt.legend(loc='upper right')
plt.subplots_adjust(left=0.081, right=0.985, top=0.965, bottom=0.058)
plt.savefig('out.png')
